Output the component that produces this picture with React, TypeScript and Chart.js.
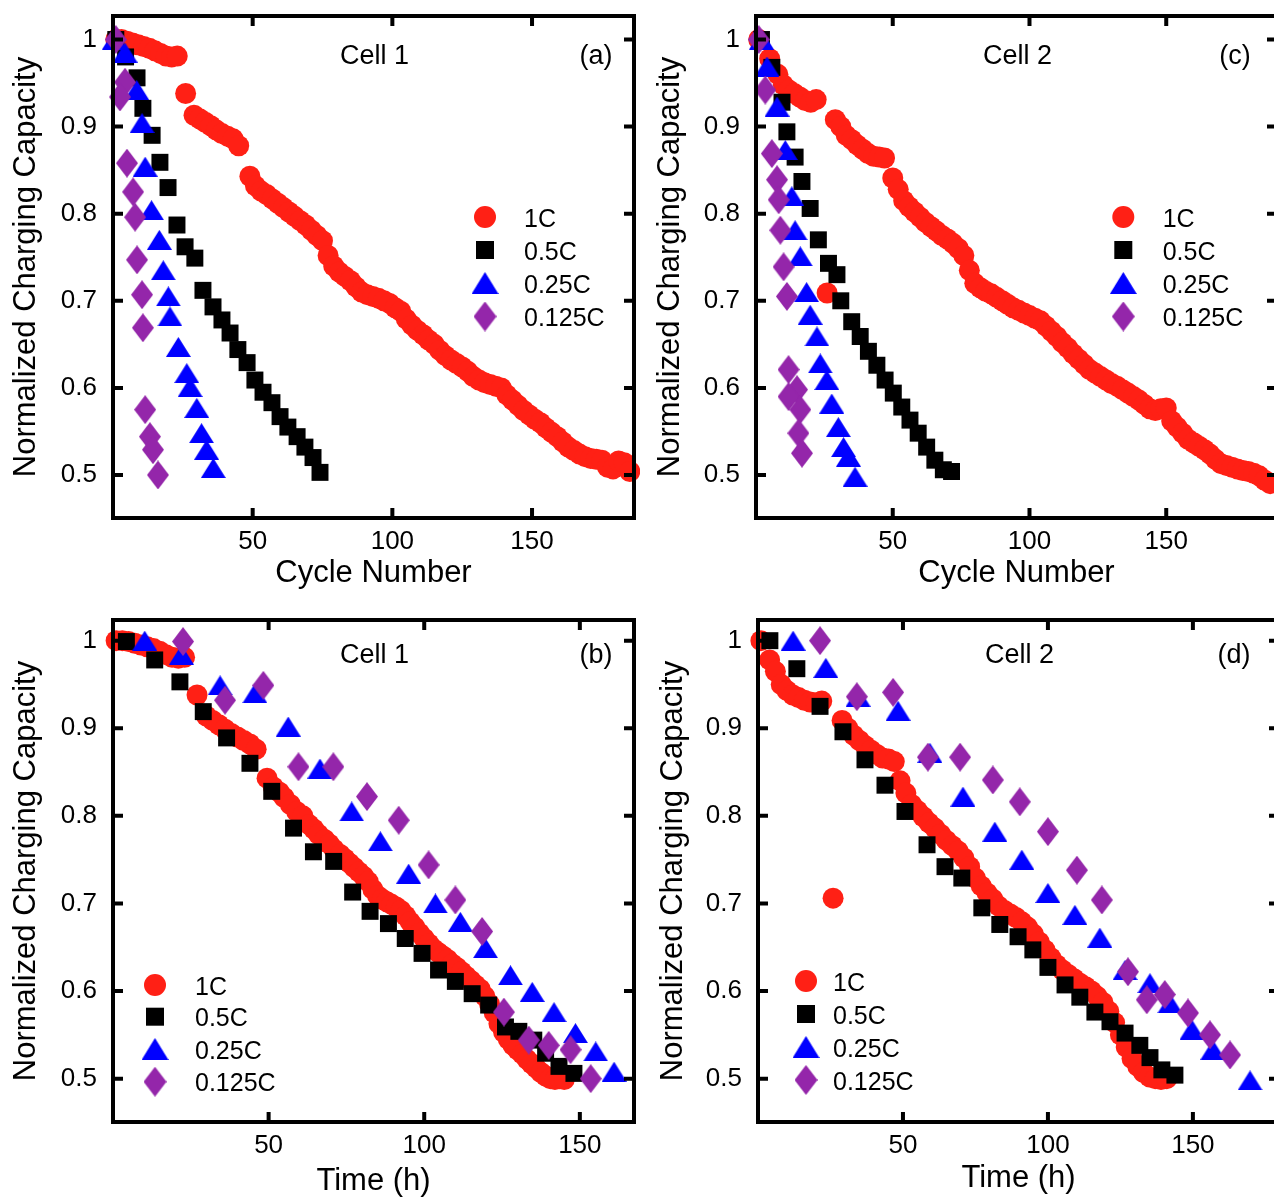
import React, { useEffect, useRef } from 'react';
import { Chart, registerables } from 'chart.js';

Chart.register(...registerables);

const FONT = '"Liberation Sans", Arial, Helvetica, sans-serif';
const COLORS = ['#ff2015', '#000000', '#0000ff', '#9426aa'];
const SERIES = ['1C', '0.5C', '0.25C', '0.125C'];
const Y_TICKS = [0.5, 0.6, 0.7, 0.8, 0.9, 1];
const X_TICKS = [50, 100, 150];
const CYCLE_TITLE = 'Cycle Number';
const TIME_TITLE = 'Time (h)';
const Y_TITLE = 'Normalized Charging Capacity';

// ---------- Panel (a): Cell 1, cycle number ----------
const a1C_x = [1, 3, 5, 7, 9, 11, 13, 15, 17, 19, 21, 23, 26, 29, 31, 33, 35, 37, 39, 41, 43, 45, 49, 51, 53, 55, 57, 59, 61, 63, 65, 67, 69, 71, 73, 75, 77, 79, 81, 83, 85, 87, 89, 91, 93, 95, 97, 99, 101, 103, 105, 107, 109, 111, 113, 115, 117, 119, 121, 123, 125, 127, 129, 131, 133, 135, 137, 139, 141, 143, 145, 147, 149, 151, 153, 155, 157, 159, 161, 163, 165, 167, 169, 171, 173, 175, 177, 179, 181, 183, 185];
const a1C_y = [1.0, 1.0, 0.998, 0.996, 0.994, 0.992, 0.99, 0.987, 0.984, 0.981, 0.98, 0.981, 0.938, 0.913, 0.909, 0.905, 0.901, 0.896, 0.892, 0.889, 0.886, 0.878, 0.843, 0.832, 0.826, 0.822, 0.817, 0.812, 0.807, 0.802, 0.797, 0.792, 0.787, 0.781, 0.775, 0.769, 0.752, 0.74, 0.733, 0.728, 0.723, 0.716, 0.71, 0.707, 0.705, 0.703, 0.7, 0.697, 0.692, 0.688, 0.679, 0.672, 0.666, 0.661, 0.655, 0.65, 0.643, 0.637, 0.632, 0.628, 0.624, 0.619, 0.613, 0.609, 0.606, 0.604, 0.602, 0.6, 0.592, 0.586, 0.58, 0.574, 0.569, 0.564, 0.56, 0.554, 0.549, 0.544, 0.538, 0.532, 0.528, 0.524, 0.521, 0.519, 0.518, 0.517, 0.509, 0.507, 0.516, 0.514, 0.504];
const a05C_x = [1, 4.5, 8.6, 10.7, 14, 16.8, 19.7, 22.9, 25.8, 29.3, 32.2, 35.8, 39, 41.9, 44.7, 48, 50.8, 53.7, 56.9, 59.8, 62.6, 65.9, 68.7, 71.6, 74.1];
const a05C_y = [1.0, 0.98, 0.956, 0.921, 0.89, 0.859, 0.83, 0.787, 0.762, 0.749, 0.712, 0.693, 0.678, 0.663, 0.644, 0.629, 0.609, 0.595, 0.583, 0.567, 0.555, 0.544, 0.532, 0.52, 0.503];
const a025C_x = [0.5, 4.3, 8.5, 10.4, 11.5, 13.8, 16.6, 18, 19.8, 20.4, 23.4, 26.4, 27.6, 30, 31.7, 33.5, 35.9];
const a025C_y = [1.0, 0.985, 0.942, 0.904, 0.854, 0.804, 0.77, 0.735, 0.705, 0.682, 0.647, 0.617, 0.601, 0.577, 0.548, 0.529, 0.508];
const a0125C_x = [1, 4.3, 2.5, 5, 7.2, 7.9, 8.6, 10.4, 10.7, 11.5, 13.2, 14.3, 16.1];
const a0125C_y = [1.0, 0.951, 0.934, 0.858, 0.825, 0.796, 0.747, 0.707, 0.669, 0.575, 0.544, 0.529, 0.5];

// ---------- Panel (b): Cell 1, time ----------
const b1C_x = [1, 3, 5, 7, 9, 11, 13, 15, 17, 19, 21, 23, 27, 30, 32, 34, 36, 38, 40, 42, 44, 46, 49.5, 51.5, 53.5, 55, 57, 59, 61, 63, 64.5, 66, 68, 69.5, 71, 73, 74.5, 76, 77.5, 79, 80.5, 82, 83.5, 85, 86.5, 88, 89.5, 91, 92.5, 94, 95.5, 97, 98.5, 100, 101.5, 103, 104.5, 106, 107.5, 109, 110.5, 112, 113.5, 115, 116.5, 118, 119.5, 121, 122.5, 124, 125.5, 127, 128.5, 130, 131.5, 133, 134.5, 136, 137.5, 139, 140.5, 142, 143.5, 145];
const b1C_y = [1.0, 1.0, 0.999, 0.997, 0.995, 0.993, 0.991, 0.988, 0.984, 0.981, 0.98, 0.981, 0.938, 0.914, 0.909, 0.904, 0.899, 0.894, 0.89, 0.886, 0.882, 0.876, 0.843, 0.833, 0.827, 0.821, 0.813, 0.805, 0.8, 0.79, 0.785, 0.779, 0.773, 0.768, 0.762, 0.756, 0.751, 0.746, 0.741, 0.736, 0.731, 0.725, 0.716, 0.709, 0.705, 0.702, 0.699, 0.696, 0.692, 0.686, 0.679, 0.673, 0.666, 0.66, 0.654, 0.648, 0.644, 0.64, 0.636, 0.631, 0.627, 0.622, 0.617, 0.612, 0.607, 0.602, 0.594, 0.585, 0.575, 0.563, 0.553, 0.545, 0.538, 0.533, 0.528, 0.522, 0.517, 0.512, 0.507, 0.503, 0.5, 0.499, 0.5, 0.499];
const b05C_x = [4.3, 13.4, 21.5, 29, 36.5, 44, 51, 58, 64.4, 70.9, 77, 82.6, 88.5, 93.9, 99.3, 104.6, 110, 115.4, 120.7, 126.1, 130.4, 135.2, 139, 143.3, 148.1];
const b05C_y = [0.999, 0.978, 0.953, 0.919, 0.889, 0.86, 0.828, 0.786, 0.759, 0.748, 0.713, 0.691, 0.677, 0.66, 0.643, 0.624, 0.611, 0.597, 0.584, 0.559, 0.554, 0.544, 0.529, 0.514, 0.506];
const b025C_x = [10.2, 22, 34.4, 45.6, 56.3, 66.5, 76.7, 85.9, 95, 103.6, 111.6, 119.7, 127.7, 134.7, 141.7, 148.6, 155.1, 161];
const b025C_y = [1.0, 0.984, 0.949, 0.94, 0.902, 0.854, 0.805, 0.771, 0.734, 0.7, 0.679, 0.649, 0.618, 0.599, 0.576, 0.552, 0.531, 0.508];
const b0125C_x = [22.5, 36, 48.3, 59.6, 70.8, 81.6, 91.8, 101.4, 110, 118.6, 125.6, 133.6, 140, 147, 153.5];
const b0125C_y = [0.999, 0.932, 0.949, 0.856, 0.856, 0.822, 0.795, 0.744, 0.704, 0.668, 0.576, 0.544, 0.538, 0.533, 0.5];

// ---------- Panel (c): Cell 2, cycle number ----------
const c1C_x = [1, 5, 8, 10, 12, 14, 16, 18, 20, 22, 26, 29, 31, 33, 35, 37, 39, 41, 43, 45, 47, 50, 52, 54, 56, 58, 60, 62, 64, 66, 68, 70, 72, 74, 76, 78, 80, 82, 84, 86, 88, 90, 92, 94, 96, 98, 100, 102, 104, 106, 108, 110, 112, 114, 116, 118, 120, 122, 124, 126, 128, 130, 132, 134, 136, 138, 140, 142, 144, 146, 148, 150, 152, 154, 156, 158, 160, 162, 164, 166, 168, 170, 172, 174, 176, 178, 180, 182, 184, 186, 188];
const c1C_y = [1.0, 0.978, 0.96, 0.948, 0.942, 0.938, 0.934, 0.93, 0.928, 0.931, 0.709, 0.908, 0.9, 0.89, 0.885, 0.879, 0.874, 0.869, 0.866, 0.865, 0.864, 0.841, 0.828, 0.815, 0.808, 0.802, 0.796, 0.79, 0.785, 0.78, 0.775, 0.771, 0.766, 0.76, 0.752, 0.735, 0.72, 0.715, 0.711, 0.708, 0.704, 0.7, 0.696, 0.692, 0.689, 0.686, 0.683, 0.68, 0.677, 0.671, 0.665, 0.659, 0.652, 0.646, 0.639, 0.633, 0.627, 0.621, 0.617, 0.613, 0.609, 0.605, 0.602, 0.598, 0.594, 0.59, 0.586, 0.581, 0.576, 0.574, 0.576, 0.577, 0.562, 0.555, 0.548, 0.541, 0.537, 0.533, 0.529, 0.524, 0.518, 0.513, 0.511, 0.509, 0.507, 0.505, 0.504, 0.502, 0.499, 0.494, 0.49];
const c05C_x = [2, 5.8, 9.5, 11.3, 14.3, 16.8, 19.8, 22.8, 26.5, 29.6, 31, 35, 38.1, 41.1, 44.2, 47.2, 50.2, 53.3, 56.3, 59.3, 62.4, 65.4, 68.5, 71.5];
const c05C_y = [1.0, 0.968, 0.928, 0.894, 0.865, 0.837, 0.806, 0.77, 0.743, 0.73, 0.7, 0.676, 0.659, 0.642, 0.626, 0.609, 0.594, 0.578, 0.563, 0.548, 0.532, 0.517, 0.506, 0.504];
const c025C_x = [2, 4, 7.7, 10.7, 13.1, 14.3, 16.2, 18.5, 19.8, 22.3, 23.5, 25.9, 27.7, 30.1, 32, 33.8, 36.2];
const c025C_y = [1.0, 0.969, 0.923, 0.873, 0.82, 0.781, 0.751, 0.71, 0.684, 0.659, 0.628, 0.609, 0.582, 0.555, 0.532, 0.521, 0.498];
const c0125C_x = [1, 3.4, 5.8, 7.7, 8.3, 8.9, 10.1, 11.3, 11.9, 15, 11.9, 16.2, 15.5, 16.8];
const c0125C_y = [1.0, 0.942, 0.869, 0.839, 0.816, 0.781, 0.739, 0.705, 0.621, 0.598, 0.59, 0.575, 0.548, 0.525];

// ---------- Panel (d): Cell 2, time ----------
const d1C_x = [1, 4, 6, 8, 10, 12, 14, 16, 18, 20, 22, 25.9, 29, 31, 33, 35, 37, 39, 41, 43, 45, 47, 49, 51, 53, 55, 57, 59, 61, 63, 65, 67, 69, 71, 73, 75, 77, 79, 81, 83, 85, 87, 89, 91, 93, 95, 97, 99, 101, 103, 105, 107, 109, 111, 113, 115, 117, 119, 121, 123, 125, 127, 129, 131, 133, 135, 137, 139, 141];
const d1C_y = [1.0, 0.978, 0.965, 0.95, 0.943, 0.938, 0.935, 0.932, 0.93, 0.929, 0.931, 0.706, 0.909, 0.9, 0.892, 0.886, 0.88, 0.875, 0.87, 0.866, 0.865, 0.862, 0.84, 0.826, 0.813, 0.806, 0.799, 0.792, 0.786, 0.779, 0.772, 0.766, 0.76, 0.752, 0.742, 0.729, 0.72, 0.712, 0.705, 0.697, 0.692, 0.688, 0.684, 0.679, 0.673, 0.665, 0.656, 0.647, 0.638, 0.63, 0.624, 0.619, 0.614, 0.609, 0.605, 0.6, 0.594, 0.587, 0.577, 0.564, 0.55, 0.536, 0.523, 0.514, 0.507, 0.502, 0.5, 0.499, 0.5];
const d05C_x = [4.1, 13.4, 21.4, 29.3, 36.9, 43.8, 50.7, 58.3, 64.5, 70.3, 77.2, 83.4, 89.7, 94.8, 100, 105.9, 111, 116.2, 121.4, 126.6, 131.7, 135.2, 139.3, 143.8];
const d05C_y = [1.0, 0.968, 0.925, 0.896, 0.864, 0.835, 0.805, 0.767, 0.742, 0.729, 0.695, 0.676, 0.662, 0.647, 0.627, 0.607, 0.593, 0.576, 0.565, 0.552, 0.538, 0.524, 0.51, 0.504];
const d025C_x = [12.1, 23.4, 34.5, 48.3, 59.3, 70.7, 81.7, 91, 100, 109.3, 117.9, 126.6, 135.2, 142.1, 149.7, 156.9, 169.7];
const d025C_y = [1.0, 0.969, 0.936, 0.92, 0.872, 0.822, 0.782, 0.75, 0.712, 0.687, 0.661, 0.624, 0.609, 0.586, 0.556, 0.533, 0.498];
const d0125C_x = [21.4, 34.1, 46.6, 58.6, 69.7, 81, 90.3, 100, 110, 118.6, 127.6, 134.1, 140.3, 148.3, 155.9, 162.8];
const d0125C_y = [1.0, 0.936, 0.941, 0.867, 0.867, 0.841, 0.816, 0.782, 0.738, 0.704, 0.622, 0.59, 0.596, 0.575, 0.55, 0.527];

type Legend = { mx: number; tx: number; rows: number[] };
type PanelDef = {
  canvas: [number, number, number, number]; // left, top, width, height (page px)
  plot: [number, number, number, number]; // left, top, right, bottom (page px)
  xMax: number;
  yMin: number;
  yMax: number;
  xTitle: string;
  xTitleCenterY: number;
  yTitleCenterX: number;
  cell: string;
  cellBaseline: number;
  tag: string;
  tagX: number;
  legend: Legend;
  xs: number[][];
  ys: number[][];
};

const PANELS: PanelDef[] = [
  {
    canvas: [0, 0, 640, 600], plot: [113, 16, 634, 518], xMax: 186.5, yMin: 0.4506, yMax: 1.027,
    xTitle: CYCLE_TITLE, xTitleCenterY: 573, yTitleCenterX: 26,
    cell: 'Cell 1', cellBaseline: 64, tag: '(a)', tagX: 596,
    legend: { mx: 485, tx: 524, rows: [217, 250, 283, 316.5] },
    xs: [a1C_x, a05C_x, a025C_x, a0125C_x], ys: [a1C_y, a05C_y, a025C_y, a0125C_y],
  },
  {
    canvas: [0, 600, 640, 610], plot: [113, 620, 634, 1122], xMax: 167.4, yMin: 0.4505, yMax: 1.0236,
    xTitle: TIME_TITLE, xTitleCenterY: 1181, yTitleCenterX: 26,
    cell: 'Cell 1', cellBaseline: 663, tag: '(b)', tagX: 596,
    legend: { mx: 155, tx: 195, rows: [985, 1016.7, 1049, 1081.7] },
    xs: [b1C_x, b05C_x, b025C_x, b0125C_x], ys: [b1C_y, b05C_y, b025C_y, b0125C_y],
  },
  {
    canvas: [643, 0, 640, 600], plot: [756, 16, 1277, 518], xMax: 190.5, yMin: 0.4506, yMax: 1.027,
    xTitle: CYCLE_TITLE, xTitleCenterY: 573, yTitleCenterX: 670,
    cell: 'Cell 2', cellBaseline: 64, tag: '(c)', tagX: 1235,
    legend: { mx: 1123.3, tx: 1162.7, rows: [217, 250, 283, 316.5] },
    xs: [c1C_x, c05C_x, c025C_x, c0125C_x], ys: [c1C_y, c05C_y, c025C_y, c0125C_y],
  },
  {
    canvas: [645, 600, 640, 610], plot: [758, 620, 1279, 1122], xMax: 179.7, yMin: 0.4505, yMax: 1.0236,
    xTitle: TIME_TITLE, xTitleCenterY: 1178, yTitleCenterX: 673,
    cell: 'Cell 2', cellBaseline: 663, tag: '(d)', tagX: 1234,
    legend: { mx: 806, tx: 833, rows: [981, 1014, 1047, 1080] },
    xs: [d1C_x, d05C_x, d025C_x, d0125C_x], ys: [d1C_y, d05C_y, d025C_y, d0125C_y],
  },
];

function shapeCanvas(kind: 'tri' | 'dia', w: number, h: number, color: string): HTMLCanvasElement {
  const c = document.createElement('canvas');
  c.width = w;
  c.height = h;
  const g = c.getContext('2d')!;
  g.fillStyle = color;
  g.beginPath();
  if (kind === 'tri') {
    g.moveTo(w / 2, 0);
    g.lineTo(w, h);
    g.lineTo(0, h);
  } else {
    g.moveTo(w / 2, 0);
    g.lineTo(w, h / 2);
    g.lineTo(w / 2, h);
    g.lineTo(0, h / 2);
  }
  g.closePath();
  g.fill();
  return c;
}

function drawLegendMarker(ctx: CanvasRenderingContext2D, i: number, x: number, y: number, tri: HTMLCanvasElement, dia: HTMLCanvasElement) {
  ctx.save();
  ctx.fillStyle = COLORS[i];
  if (i === 0) {
    ctx.beginPath();
    ctx.arc(x, y, 11, 0, Math.PI * 2);
    ctx.fill();
  } else if (i === 1) {
    ctx.fillRect(x - 9, y - 9, 18, 18);
  } else if (i === 2) {
    ctx.drawImage(tri, x - tri.width / 2, y - tri.height / 2);
  } else {
    ctx.drawImage(dia, x - dia.width / 2, y - dia.height / 2);
  }
  ctx.restore();
}

function zeroPad(s: any) {
  s.paddingTop = 0;
  s.paddingBottom = 0;
  s.paddingLeft = 0;
  s.paddingRight = 0;
}

function Panel({ def }: { def: PanelDef }) {
  const ref = useRef<HTMLCanvasElement>(null);
  useEffect(() => {
    const canvas = ref.current;
    if (!canvas) return;
    const [cl, ct, cw, ch] = def.canvas;
    const [pl, pt, pr, pb] = def.plot;
    const yAxisW = pl - cl;
    const xAxisH = ct + ch - pb;
    const titleFont = 31;
    const titleLH = titleFont * 1.2;
    const xTitlePadBottom = ct + ch - titleLH / 2 - def.xTitleCenterY;
    const yTitlePadTop = def.yTitleCenterX - cl - titleLH / 2;
    const rightPad = cl + cw - pr;

    const triData = shapeCanvas('tri', 25, 20, COLORS[2]);
    const diaData = shapeCanvas('dia', 22, 29, COLORS[3]);
    const triLeg = shapeCanvas('tri', 27, 22, COLORS[2]);
    const diaLeg = shapeCanvas('dia', 23, 30, COLORS[3]);

    const styles: any[] = ['circle', 'rect', triData, diaData];
    const radii = [10.5, 12, 12, 12];

    const datasets = SERIES.map((name, i) => ({
      label: name,
      data: def.xs[i].map((x, k) => ({ x, y: def.ys[i][k] })),
      pointStyle: styles[i],
      pointRadius: radii[i],
      pointBackgroundColor: COLORS[i],
      pointBorderWidth: 0,
      pointBorderColor: COLORS[i],
      showLine: false,
      order: 4 - i,
      clip: false as any,
    }));

    const framePlugin = {
      id: 'frame',
      afterDatasetsDraw(chart: any) {
        const { ctx, chartArea: a, scales } = chart;
        ctx.save();
        ctx.strokeStyle = '#000';
        ctx.lineWidth = 4;
        ctx.lineCap = 'butt';
        ctx.strokeRect(a.left, a.top, a.right - a.left, a.bottom - a.top);
        const L = 10;
        ctx.lineWidth = 4;
        ctx.beginPath();
        for (const v of X_TICKS) {
          const x = scales.x.getPixelForValue(v);
          ctx.moveTo(x, a.bottom); ctx.lineTo(x, a.bottom - L);
          ctx.moveTo(x, a.top); ctx.lineTo(x, a.top + L);
        }
        for (const v of Y_TICKS) {
          const y = scales.y.getPixelForValue(v);
          ctx.moveTo(a.left, y); ctx.lineTo(a.left + L, y);
          ctx.moveTo(a.right, y); ctx.lineTo(a.right - L, y);
        }
        ctx.stroke();
        ctx.restore();
      },
      afterDraw(chart: any) {
        const { ctx, chartArea: a } = chart;
        ctx.save();
        ctx.fillStyle = '#000';
        ctx.textBaseline = 'alphabetic';
        ctx.font = `27px ${FONT}`;
        ctx.textAlign = 'center';
        ctx.fillText(def.cell, (a.left + a.right) / 2 + 1, def.cellBaseline - ct);
        ctx.fillText(def.tag, def.tagX - cl, def.cellBaseline - ct);
        ctx.font = `25px ${FONT}`;
        ctx.textAlign = 'left';
        SERIES.forEach((name, i) => {
          const y = def.legend.rows[i] - ct;
          drawLegendMarker(ctx, i, def.legend.mx - cl, y, triLeg, diaLeg);
          ctx.fillStyle = '#000';
          ctx.fillText(name, def.legend.tx - cl, y + 9.5);
        });
        ctx.restore();
      },
    };

    const chart = new Chart(canvas, {
      type: 'scatter',
      data: { datasets: datasets as any },
      options: {
        responsive: false,
        animation: false,
        events: [],
        layout: { autoPadding: false, padding: { left: 0, top: pt - ct, right: rightPad, bottom: 0 } },
        plugins: { legend: { display: false }, tooltip: { enabled: false } },
        scales: {
          x: {
            type: 'linear',
            min: 0,
            max: def.xMax,
            afterFit: (s: any) => { s.height = xAxisH; zeroPad(s); },
            afterBuildTicks: (s: any) => { s.ticks = X_TICKS.map((v) => ({ value: v })); },
            grid: { display: false, drawTicks: false },
            border: { display: false },
            ticks: { font: { family: FONT, size: 26 }, color: '#000', padding: 8, maxRotation: 0, autoSkip: false, callback: (v: any) => String(v) },
            title: { display: true, text: def.xTitle, color: '#000', font: { family: FONT, size: titleFont }, padding: { top: 0, bottom: xTitlePadBottom } },
          },
          y: {
            type: 'linear',
            min: def.yMin,
            max: def.yMax,
            afterFit: (s: any) => { s.width = yAxisW; zeroPad(s); },
            afterBuildTicks: (s: any) => { s.ticks = Y_TICKS.map((v) => ({ value: v })); },
            grid: { display: false, drawTicks: false },
            border: { display: false },
            ticks: { font: { family: FONT, size: 26 }, color: '#000', padding: 16, autoSkip: false, callback: (v: any) => String(+Number(v).toFixed(2)) },
            title: { display: true, text: Y_TITLE, color: '#000', font: { family: FONT, size: titleFont }, padding: { top: yTitlePadTop, bottom: 0 } },
          },
        },
      } as any,
      plugins: [framePlugin],
    });
    return () => chart.destroy();
  }, [def]);

  const [cl, ct, cw, ch] = def.canvas;
  return (
    <canvas
      ref={ref}
      width={cw}
      height={ch}
      style={{ position: 'absolute', left: cl, top: ct, width: cw, height: ch }}
    />
  );
}

export default function App() {
  return (
    <div style={{ position: 'fixed', left: 0, top: 0, width: 1274, height: 1198, overflow: 'hidden', background: '#ffffff' }}>
      {PANELS.map((p, i) => (
        <Panel key={i} def={p} />
      ))}
    </div>
  );
}
